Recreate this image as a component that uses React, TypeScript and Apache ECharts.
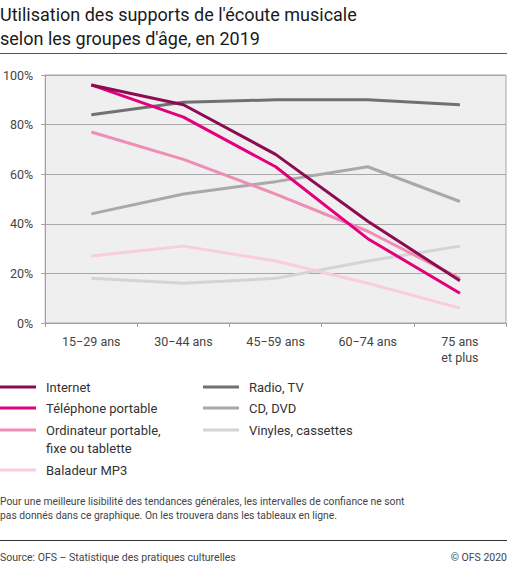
import React, { useEffect, useRef } from "react";
import * as echarts from "echarts";

const categories = ["15−29 ans", "30−44 ans", "45−59 ans", "60−74 ans", "75 ans\net plus"];
const yTicks = [0, 20, 40, 60, 80, 100];

const internet = [96, 88, 68, 41, 17];
const telephone = [96, 83, 63, 34, 12];
const ordinateur = [77, 66, 52, 37, 18];
const baladeur = [27, 31, 25, 16, 6];
const radio = [84, 89, 90, 90, 88];
const cd = [44, 52, 57, 63, 49];
const vinyles = [18, 16, 18, 25, 31];

const seriesNames = [
  "Internet",
  "Téléphone portable",
  "Ordinateur portable,\nfixe ou tablette",
  "Baladeur MP3",
  "Radio, TV",
  "CD, DVD",
  "Vinyles, cassettes",
];
const seriesData = [internet, telephone, ordinateur, baladeur, radio, cd, vinyles];
const seriesColors = ["#8c0b51", "#e3007d", "#ee8db5", "#f8cde0", "#717171", "#a9a9a9", "#d4d4d4"];

const FONT = "Roboto, 'Noto Sans', sans-serif";

export default function App() {
  const ref = useRef<HTMLDivElement>(null);
  useEffect(() => {
    if (!ref.current) return;
    const chart = echarts.init(ref.current, undefined, { renderer: "svg" });

    const legendPos = [
      { x: 0, y: 387 },
      { x: 0, y: 408 },
      { x: 0, y: 430 },
      { x: 0, y: 470 },
      { x: 203, y: 387 },
      { x: 203, y: 408 },
      { x: 203, y: 430 },
    ];
    const legendGraphics: any[] = [];
    seriesNames.forEach((name, i) => {
      const p = legendPos[i];
      legendGraphics.push({
        type: "rect",
        shape: { x: p.x, y: p.y - 1.5, width: 36, height: 3 },
        style: { fill: seriesColors[i] },
      });
      legendGraphics.push({
        type: "text",
        x: p.x + 46,
        y: p.y - 9,
        style: {
          text: name,
          font: `13px ${FONT}`,
          fill: "#333",
          lineHeight: 18,
          verticalAlign: "top",
        },
      });
    });

    const option: any = {
      animation: false,
      backgroundColor: "#ffffff",
      textStyle: { fontFamily: FONT },
      grid: {
        left: 45,
        right: 1,
        top: 75,
        bottom: 244,
        show: true,
        backgroundColor: "#efefef",
        borderColor: "#a8a8a8",
        borderWidth: 1,
      },
      xAxis: {
        type: "category",
        data: categories,
        boundaryGap: true,
        axisLine: { show: true, lineStyle: { color: "#a0a0a0", width: 1 } },
        axisTick: { show: true, length: 4, lineStyle: { color: "#a0a0a0" } },
        axisLabel: {
          color: "#444",
          fontSize: 12.5,
          fontFamily: FONT,
          margin: 10,
          lineHeight: 16,
        },
        splitLine: { show: false },
      },
      yAxis: {
        type: "value",
        min: yTicks[0],
        max: yTicks[yTicks.length - 1],
        interval: 20,
        axisLine: { show: true, lineStyle: { color: "#a0a0a0", width: 1 } },
        axisTick: { show: true, length: 4, lineStyle: { color: "#a0a0a0" } },
        axisLabel: {
          color: "#444",
          fontSize: 12.5,
          fontFamily: FONT,
          margin: 12,
          formatter: "{value}%",
        },
        splitLine: { show: true, lineStyle: { color: "#a8a8a8", width: 1 } },
      },
      series: seriesData
        .map((d, i) => ({
          name: seriesNames[i],
          type: "line",
          data: d,
          symbol: "none",
          lineStyle: { color: seriesColors[i], width: 3 },
          itemStyle: { color: seriesColors[i] },
          z: 10 - i,
        }))
        .reverse(),
      graphic: [
        {
          type: "text",
          x: 0,
          y: 2,
          style: {
            text: "Utilisation des supports de l'écoute musicale\nselon les groupes d'âge, en 2019",
            font: `18px ${FONT}`,
            fill: "#1a1a1a",
            lineHeight: 24,
            verticalAlign: "top",
          },
        },
        {
          type: "line",
          shape: { x1: 0, y1: 53.5, x2: 507, y2: 53.5 },
          style: { stroke: "#555", lineWidth: 1 },
        },
        ...legendGraphics,
        {
          type: "text",
          x: 0,
          y: 495,
          style: {
            text:
              "Pour une meilleure lisibilité des tendances générales, les intervalles de confiance ne sont\npas donnés dans ce graphique. On les trouvera dans les tableaux en ligne.",
            font: `10.3px ${FONT}`,
            fill: "#444",
            lineHeight: 13.5,
            verticalAlign: "top",
          },
        },
        {
          type: "line",
          shape: { x1: 0, y1: 540.5, x2: 507, y2: 540.5 },
          style: { stroke: "#333", lineWidth: 1 },
        },
        {
          type: "text",
          x: 0,
          y: 557,
          style: {
            text: "Source: OFS – Statistique des pratiques culturelles",
            font: `10.5px ${FONT}`,
            fill: "#444",
            verticalAlign: "middle",
          },
        },
        {
          type: "text",
          x: 507,
          y: 557,
          style: {
            text: "© OFS 2020",
            font: `10.5px ${FONT}`,
            fill: "#444",
            align: "right",
            verticalAlign: "middle",
          },
        },
      ],
    };
    chart.setOption(option);
    return () => chart.dispose();
  }, []);

  return (
    <div
      ref={ref}
      style={{ position: "fixed", left: 0, top: 0, width: 507, height: 567, background: "#fff" }}
    />
  );
}
